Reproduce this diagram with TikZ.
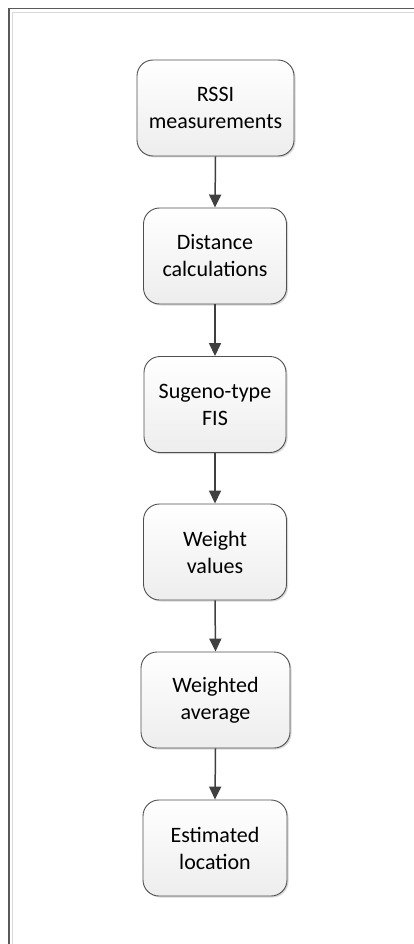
\documentclass[tikz,border=0pt]{standalone}
\usepackage{fontspec}
\setmainfont{Carlito}
\usetikzlibrary{arrows.meta,shadows}
\definecolor{edgegray}{HTML}{505050}
\definecolor{arrowgray}{HTML}{404040}
\newcommand{\boxfont}{\fontsize{22pt}{27pt}\selectfont}
\tikzset{
  flowbox/.style={draw=edgegray, line width=0.9pt, rounded corners=16pt,
    top color=white, bottom color=black!7, minimum height=96pt,
    align=center, font=\boxfont, inner sep=0pt,
    drop shadow={shadow xshift=1.5pt, shadow yshift=-1.5pt, fill=black!25, opacity=0.6}},
  flowarrow/.style={draw=arrowgray, line width=1.5pt,
    -{Triangle[width=12pt,length=13pt]}, color=arrowgray},
  framedark/.style={draw=black!65, line width=1.3pt},
  framelight/.style={draw=black!15, line width=0.8pt}
}
\begin{document}
\begin{tikzpicture}[x=1pt,y=1pt]
\useasboundingbox (0,0) rectangle (414,-944);
\fill[white] (0,0) rectangle (414,-944);
% frame (top and left edges)
\draw[framedark] (414,-8.5) -- (9,-8.5) -- (9,-944);
\draw[framelight] (414,-12) -- (12.5,-12) -- (12.5,-944);
% boxes
\node[flowbox, minimum width=157pt] (rssi) at (215.5,-108) {RSSI\\measurements};
\node[flowbox, minimum width=143pt] (dist) at (215,-256) {Distance\\calculations};
\node[flowbox, minimum width=142pt] (fis) at (215,-404.5) {Sugeno-type\\FIS};
\node[flowbox, minimum width=143pt] (wv) at (215,-552) {Weight\\values};
\node[flowbox, minimum width=149pt] (wa) at (215.5,-700) {Weighted\\average};
\node[flowbox, minimum width=144pt] (loc) at (215,-848) {Estimated\\location};
% arrows
\draw[flowarrow] (rssi.south) -- (dist.north);
\draw[flowarrow] (dist.south) -- (fis.north);
\draw[flowarrow] (fis.south) -- (wv.north);
\draw[flowarrow] (wv.south) -- (wa.north);
\draw[flowarrow] (wa.south) -- (loc.north);
\end{tikzpicture}
\end{document}
